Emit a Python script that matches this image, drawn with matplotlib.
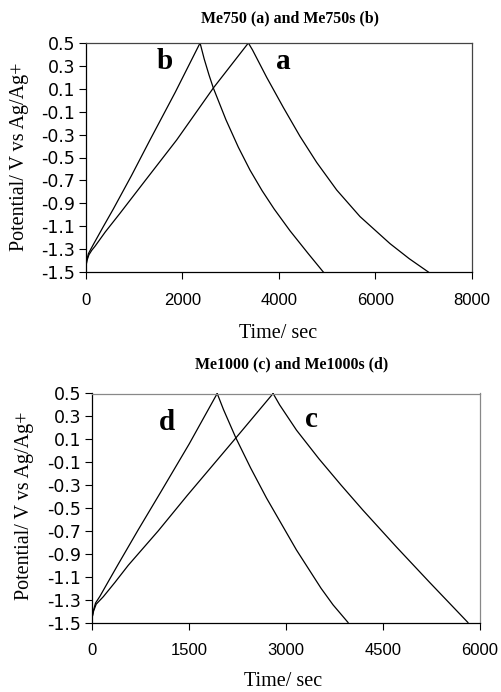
import matplotlib
matplotlib.use("Agg")
import matplotlib.pyplot as plt

# ---- data ----
a_charge_t = [0, 20, 60, 120, 187, 400, 705, 1230, 1879, 2639, 3365]
a_charge_v = [-1.45, -1.40, -1.35, -1.31, -1.275, -1.15, -0.987, -0.70, -0.347, 0.107, 0.5]
a_dis_t = [3365, 3450, 3745, 4090, 4435, 4781, 5196, 5679, 6300, 6700, 7095]
a_dis_v = [0.5, 0.44, 0.20, -0.063, -0.315, -0.543, -0.784, -1.016, -1.252, -1.384, -1.5]

b_charge_t = [0, 15, 50, 100, 152, 350, 566, 940, 1326, 1850, 2364]
b_charge_v = [-1.45, -1.40, -1.34, -1.30, -1.26, -1.11, -0.95, -0.66, -0.347, 0.07, 0.5]
b_dis_t = [2364, 2450, 2550, 2639, 2900, 3157, 3399, 3650, 3900, 4228, 4607, 4918]
b_dis_v = [0.5, 0.36, 0.22, 0.107, -0.17, -0.41, -0.61, -0.79, -0.95, -1.14, -1.34, -1.5]

c_charge_t = [0, 20, 60, 170, 350, 557, 1020, 1470, 2222, 2798]
c_charge_v = [-1.45, -1.40, -1.34, -1.275, -1.15, -1.0, -0.70, -0.39, 0.112, 0.5]
c_dis_t = [2798, 2900, 3160, 3507, 3850, 4190, 4706, 5221, 5813]
c_dis_v = [0.5, 0.40, 0.18, -0.07, -0.30, -0.52, -0.84, -1.15, -1.5]

d_charge_t = [0, 15, 50, 119, 250, 402, 711, 1060, 1500, 1933]
d_charge_v = [-1.45, -1.40, -1.33, -1.27, -1.14, -0.99, -0.69, -0.36, 0.06, 0.5]
d_dis_t = [1933, 2030, 2222, 2450, 2696, 3160, 3540, 3726, 3958]
d_dis_v = [0.5, 0.36, 0.112, -0.15, -0.413, -0.867, -1.201, -1.346, -1.5]

y_ticks = [0.5, 0.3, 0.1, -0.1, -0.3, -0.5, -0.7, -0.9, -1.1, -1.3, -1.5]
x_ticks_top = [0, 2000, 4000, 6000, 8000]
x_ticks_bot = [0, 1500, 3000, 4500, 6000]

W, H = 502, 692
fig = plt.figure(figsize=(W / 100, H / 100), dpi=100)

SERIF = "Liberation Serif"
SANS = "Liberation Sans"


def px_axes(left, top, right, bottom):
    return fig.add_axes([left / W, 1 - bottom / H, (right - left) / W, (bottom - top) / H])


def style(ax, xticks, xmax, spine_col):
    ax.set_xlim(0, xmax)
    ax.set_ylim(-1.5, 0.5)
    ax.set_xticks(xticks)
    ax.set_yticks(y_ticks)
    ax.set_xticklabels([str(v) for v in xticks], fontfamily=SANS, fontsize=12)
    ax.set_yticklabels(["%.1f" % v for v in y_ticks], fontfamily="DejaVu Sans", fontsize=12.5)
    ax.tick_params(direction="out", length=5, width=0.8, color="black", pad=3)
    ax.tick_params(axis="x", pad=10)
    for s in ["left", "bottom"]:
        ax.spines[s].set_color("black")
        ax.spines[s].set_linewidth(0.9)
    for s in ["top", "right"]:
        ax.spines[s].set_color(spine_col)
        ax.spines[s].set_linewidth(0.9)


lw = 0.9
ax1 = px_axes(86, 43, 472, 272)
ax1.plot(a_charge_t, a_charge_v, color="black", lw=lw)
ax1.plot(a_dis_t, a_dis_v, color="black", lw=lw)
ax1.plot(b_charge_t, b_charge_v, color="black", lw=lw)
ax1.plot(b_dis_t, b_dis_v, color="black", lw=lw)
style(ax1, x_ticks_top, 8000, "#444444")
ax1.text(1637, 0.34, "b", fontfamily=SERIF, fontweight="bold", fontsize=21, ha="center", va="center")
ax1.text(4083, 0.34, "a", fontfamily=SERIF, fontweight="bold", fontsize=21, ha="center", va="center")

ax2 = px_axes(92.3, 393.5, 480, 622.5)
ax2.plot(c_charge_t, c_charge_v, color="black", lw=lw)
ax2.plot(c_dis_t, c_dis_v, color="black", lw=lw)
ax2.plot(d_charge_t, d_charge_v, color="black", lw=lw)
ax2.plot(d_dis_t, d_dis_v, color="black", lw=lw)
style(ax2, x_ticks_bot, 6000, "#888888")
ax2.text(1155, 0.25, "d", fontfamily=SERIF, fontweight="bold", fontsize=21, ha="center", va="center")
ax2.text(3397, 0.276, "c", fontfamily=SERIF, fontweight="bold", fontsize=21, ha="center", va="center")


def ftext(x, y, s, **kw):
    fig.text(x / W, 1 - y / H, s, ha="center", va="center", **kw)


ftext(290, 18, "Me750 (a) and Me750s (b)", fontfamily=SERIF, fontweight="bold", fontsize=11.4)
ftext(292, 364, "Me1000 (c) and Me1000s (d)", fontfamily=SERIF, fontweight="bold", fontsize=11.4)
ftext(278, 333, "Time/ sec", fontfamily=SERIF, fontsize=14.5)
ftext(283, 681, "Time/ sec", fontfamily=SERIF, fontsize=14.5)
ftext(20, 157, "Potential/ V vs Ag/Ag+", fontfamily=SERIF, fontsize=14.5, rotation=90)
ftext(25, 506, "Potential/ V vs Ag/Ag+", fontfamily=SERIF, fontsize=14.5, rotation=90)

fig.savefig("out.png", dpi=100)
